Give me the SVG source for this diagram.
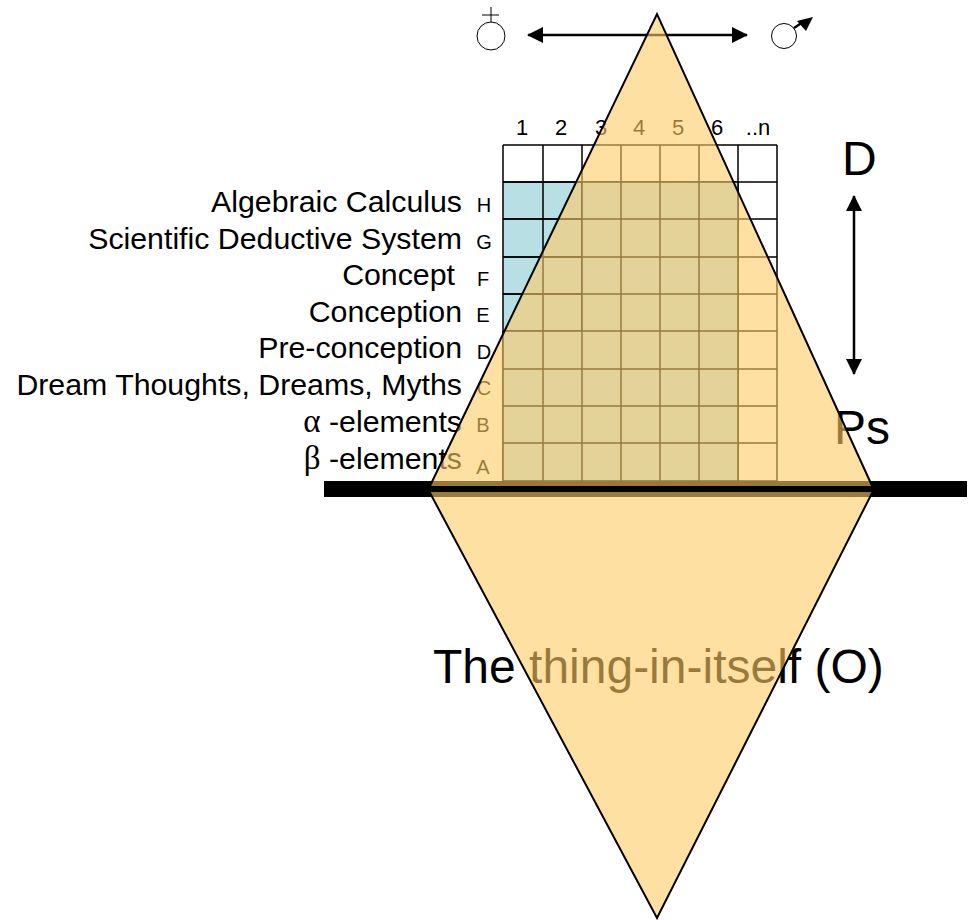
<svg xmlns="http://www.w3.org/2000/svg" width="972" height="920" viewBox="0 0 972 920">
<defs>
<style>
text{font-family:"Liberation Sans",Arial,sans-serif;fill:#000}
.l{font-size:30.3px;text-anchor:end}
.k{font-size:20px;text-anchor:middle}
.n{font-size:22px;text-anchor:middle}
.g{font-family:"Liberation Serif","DejaVu Serif",serif;font-size:33px}
.big{font-size:48px}
.cell{fill:none;stroke:#000;stroke-width:1.5}
.tri{fill:#ffcc66;fill-opacity:.6;stroke:none}
.edge{fill:none;stroke:#000;stroke-width:2}
.sym{fill:none;stroke:#000;stroke-width:1}
</style>
<marker id="ah" viewBox="0 0 16 16" refX="15" refY="8" markerWidth="16" markerHeight="16" markerUnits="userSpaceOnUse" orient="auto-start-reverse"><path d="M0 0L16 8L0 16Z" fill="#000"/></marker>
</defs>
<g id="grid">
<rect x="503" y="182" width="79" height="149" fill="#b8dfe3"/>
<path class="cell" d="M503 145H777M503 182H777M503 219H777M503 257H777M503 294H777M503 331H777M503 369H777M503 406H777M503 443H777M503 481H777M503 145V481M543 145V481M582 145V481M621 145V481M660 145V481M699 145V481M738 145V481M777 145V481"/>
<rect x="582" y="182" width="156" height="299" fill="#b8dfe3"/>
<rect x="503" y="331" width="79" height="150" fill="#b8dfe3"/>
<path class="cell" d="M503 182H738M503 219H738M503 257H738M503 294H738M503 331H738M503 369H738M503 406H738M503 443H738M503 481H738M503 331V481M543 331V481M582 182V481M621 182V481M660 182V481M699 182V481M738 182V481"/>
</g>
<g id="column-labels">
<text class="n" x="522" y="135">1</text><text class="n" x="561" y="135">2</text><text class="n" x="601" y="135">3</text><text class="n" x="639" y="135">4</text><text class="n" x="678" y="135">5</text><text class="n" x="717" y="135">6</text><text class="n" x="758" y="135">..n</text>
</g>
<g id="row-labels">
<text class="l" x="462" y="212">Algebraic Calculus</text><text class="k" x="484" y="212">H</text>
<text class="l" x="462" y="249">Scientific Deductive System</text><text class="k" x="484" y="249">G</text>
<text class="l" x="455" y="285">Concept</text><text class="k" x="483" y="286">F</text>
<text class="l" x="462" y="322">Conception</text><text class="k" x="483" y="322">E</text>
<text class="l" x="462" y="358">Pre-conception</text><text class="k" x="484" y="359">D</text>
<text class="l" x="462" y="395">Dream Thoughts, Dreams, Myths</text><text class="k" x="484" y="395">C</text>
<text class="l" x="462" y="432"><tspan class="g">α</tspan> -elements</text><text class="k" x="483" y="432">B</text>
<text class="l" x="462" y="469"><tspan class="g">β</tspan> -elements</text><text class="k" x="483" y="474">A</text>
</g>
<g id="state-labels">
<text class="big" x="842" y="175">D</text>
<text class="big" x="834" y="444">Ps</text>
<text class="big" x="433" y="683">The thing-in-itself (O)</text>
</g>
<g id="connectors">
<line x1="324" y1="489" x2="967" y2="489" stroke="#000" stroke-width="16"/>
<line x1="528" y1="35" x2="747" y2="35" stroke="#000" stroke-width="2.5" marker-start="url(#ah)" marker-end="url(#ah)"/>
<line x1="854" y1="196" x2="854" y2="374" stroke="#000" stroke-width="2.5" marker-start="url(#ah)" marker-end="url(#ah)"/>
</g>
<g id="female-symbol">
<circle class="sym" cx="491" cy="36" r="14"/>
<path class="sym" d="M491 22V7M482 15H499"/>
</g>
<g id="male-symbol">
<circle class="sym" cx="784" cy="36" r="12.500"/>
<path d="M794 28L803 22" stroke="#000" stroke-width="2.500" fill="none"/>
<path d="M813 17L797 21L806 31Z" fill="#000"/>
</g>
<g id="upper-triangle">
<path class="tri" d="M657 14L873 489H429Z"/>
<path class="edge" d="M429 488L657 14L873 488"/>
<path d="M429 488H873" stroke="#000" stroke-width="4"/>
</g>
<g id="lower-triangle">
<path class="tri" d="M429 490H873L657 918Z"/>
<path class="edge" d="M429 491L657 918L873 491"/>
<path d="M429 490H873" stroke="#000" stroke-width="4"/>
</g>
</svg>
